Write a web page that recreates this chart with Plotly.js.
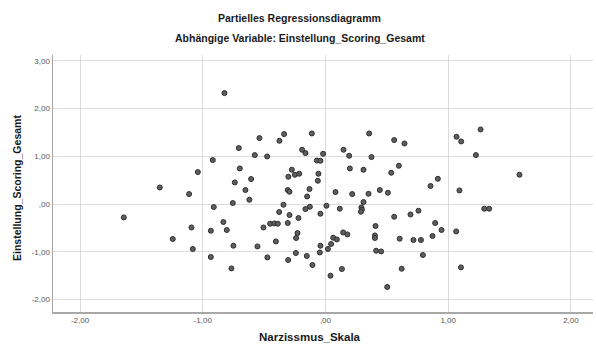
<!DOCTYPE html>
<html>
<head>
<meta charset="utf-8">
<script src="https://cdn.plot.ly/plotly-3.0.1.min.js"></script>
<style>
  html, body { margin: 0; padding: 0; background: #fff; }
  #chart { width: 596px; height: 349px; }
</style>
</head>
<body>
<div id="chart"></div>
<script>
// Partial regression plot: residuals of Narzissmus_Skala vs. residuals of Einstellung_Scoring_Gesamt
const narzissmus = [
  -0.823, -0.918, -1.040, -0.739, -1.350, -1.111, -0.910, -0.755, -1.643, -0.832,
  -1.092, -0.934, -0.804, -1.244, -1.081, -0.750, -0.934, -0.766, 0.356, -0.337,
  -0.111, -0.538, -0.375, 0.560, -0.706, -0.190, -0.163, 0.147, -0.019, -0.576,
  -0.475, 0.193, 0.375, -0.070, -0.041, -0.698, -0.274, 0.199, 0.310, 0.598,
  -0.057, -0.249, -0.214, -0.302, -0.606, 0.536, -0.062, -0.652, -0.130, -0.307,
  -0.293, 0.082, 0.443, 0.509, 0.218, 0.351, -0.149, -0.620, -0.342, -0.127,
  -0.163, 0.008, 0.117, 0.310, 0.293, 0.297, 0.289, -0.377, -0.293, -0.041,
  -0.220, 0.560, -0.505, -0.451, -0.416, -0.388, -0.307, 0.408, -0.228, -0.239,
  0.063, 0.093, 0.144, 0.179, 0.403, 0.403, 0.605, -0.404, -0.554, -0.041,
  0.046, 0.020, -0.046, -0.241, 0.413, 0.454, -0.473, -0.304, -0.152, -0.106,
  0.134, 0.041, 0.503, 0.621, 1.264, 1.068, 1.106, 0.644, 1.226, 1.581,
  0.916, 0.856, 1.092, 1.294, 1.334, 0.693, 0.758, 0.894, 0.946, 1.065,
  0.717, 0.778, 0.872, 0.794, 1.104
];
const einstellung = [
  2.322, 0.921, 0.669, 0.452, 0.347, 0.209, -0.063, 0.021, -0.280, -0.377,
  -0.490, -0.559, -0.544, -0.732, -0.941, -0.872, -1.109, -1.347, 1.477, 1.464,
  1.477, 1.381, 1.324, 1.339, 1.172, 1.136, 1.067, 1.136, 1.052, 1.025,
  0.996, 1.010, 0.983, 0.912, 0.906, 0.745, 0.718, 0.745, 0.718, 0.801,
  0.634, 0.613, 0.634, 0.571, 0.523, 0.655, 0.487, 0.293, 0.314, 0.293,
  0.257, 0.251, 0.293, 0.236, 0.209, 0.215, 0.159, 0.090, -0.015, -0.056,
  -0.105, -0.036, -0.098, 0.042, -0.071, -0.119, -0.161, -0.167, -0.230, -0.203,
  -0.293, -0.266, -0.490, -0.412, -0.406, -0.412, -0.397, -0.460, -0.607, -0.711,
  -0.705, -0.741, -0.594, -0.636, -0.657, -0.711, -0.726, -0.782, -0.887, -0.872,
  -0.837, -0.941, -1.013, -1.025, -0.977, -0.992, -1.117, -1.172, -1.088, -1.276,
  -1.360, -1.500, -1.736, -1.354, 1.561, 1.408, 1.310, 1.268, 1.025, 0.613,
  0.529, 0.377, 0.285, -0.098, -0.098, -0.218, -0.140, -0.397, -0.544, -0.573,
  -0.753, -0.753, -0.669, -1.067, -1.326
];

const xTickVals = [-2, -1, 0, 1, 2];
const xTickText = ['-2,00', '-1,00', ',00', '1,00', '2,00'];
const yTickVals = [-2, -1, 0, 1, 2, 3];
const yTickText = ['-2,00', '-1,00', ',00', '1,00', '2,00', '3,00'];

const chartTitle = 'Partielles Regressionsdiagramm';
const chartSubtitle = 'Abhängige Variable: Einstellung_Scoring_Gesamt';
const xLabel = 'Narzissmus_Skala';
const yLabel = 'Einstellung_Scoring_Gesamt';

const FONT = 'Liberation Sans, Arial, sans-serif';

const trace = {
  type: 'scatter',
  mode: 'markers',
  x: narzissmus,
  y: einstellung,
  marker: {
    size: 5,
    color: '#5e5e5e',
    line: { color: '#2e2e2e', width: 1 }
  },
  hoverinfo: 'x+y'
};

const axisCommon = {
  showgrid: true,
  gridcolor: '#dcdcdc',
  gridwidth: 1,
  zeroline: false,
  showline: true,
  linecolor: '#a8a8a8',
  linewidth: 1.5,
  ticks: '',
  tickfont: { family: FONT, size: 8, color: '#555' },
  fixedrange: true
};

const layout = {
  width: 596,
  height: 349,
  margin: { l: 53, r: 3, t: 55, b: 37 },
  paper_bgcolor: '#ffffff',
  plot_bgcolor: '#ffffff',
  showlegend: false,
  xaxis: Object.assign({}, axisCommon, {
    range: [-2.22, 2.18],
    tickmode: 'array',
    tickvals: xTickVals,
    ticktext: xTickText
  }),
  yaxis: Object.assign({}, axisCommon, {
    range: [-2.26, 3.12],
    tickmode: 'array',
    tickvals: yTickVals,
    ticktext: yTickText
  }),
  annotations: [
    {
      text: '<b>' + chartTitle + '</b>',
      xref: 'paper', yref: 'paper', x: 0.457, y: 1.144,
      xanchor: 'center', yanchor: 'middle', showarrow: false,
      font: { family: FONT, size: 10.5, color: '#1a1a1a' }
    },
    {
      text: '<b>' + chartSubtitle + '</b>',
      xref: 'paper', yref: 'paper', x: 0.457, y: 1.066,
      xanchor: 'center', yanchor: 'middle', showarrow: false,
      font: { family: FONT, size: 10.5, color: '#1a1a1a' }
    },
    {
      text: '<b>' + xLabel + '</b>',
      xref: 'paper', yref: 'paper', x: 0.476, y: -0.097,
      xanchor: 'center', yanchor: 'middle', showarrow: false,
      font: { family: FONT, size: 11.5, color: '#1a1a1a' }
    },
    {
      text: '<b>' + yLabel + '</b>',
      xref: 'paper', yref: 'paper', x: -0.0667, y: 0.4825,
      xanchor: 'center', yanchor: 'middle', showarrow: false, textangle: -90,
      font: { family: FONT, size: 10.5, color: '#1a1a1a' }
    }
  ]
};

Plotly.newPlot('chart', [trace], layout, { displayModeBar: false, staticPlot: true });
</script>
</body>
</html>
